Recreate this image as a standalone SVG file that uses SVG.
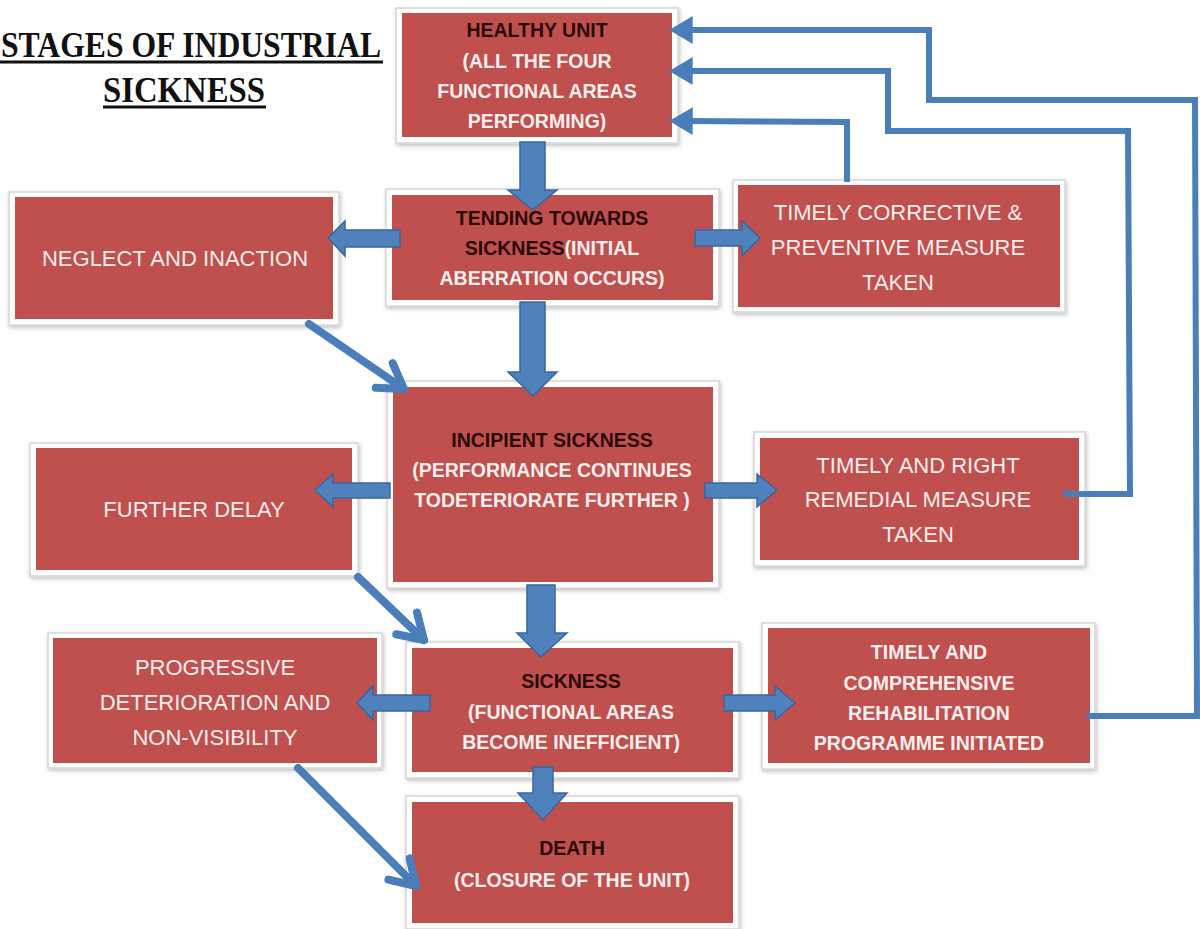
<svg xmlns="http://www.w3.org/2000/svg" width="1200" height="929" viewBox="0 0 1200 929">
<defs>
<style>
.frame{fill:#ffffff;stroke:#d6d6d6;stroke-width:1.5;filter:url(#sh)}
.box{fill:#c0504d}
.tb{font-family:"Liberation Sans",Arial,sans-serif;font-weight:bold;font-size:19.5px;text-anchor:middle}
.tr{font-family:"Liberation Sans",Arial,sans-serif;font-size:22px;text-anchor:middle;fill:#f8eeee}
.dk{fill:#2a0808}
.wt{fill:#f8eeee}
.blk{fill:#4f81bd;stroke:#3a669c;stroke-width:1.5}
.diag{fill:none;stroke:#4a7ebb;stroke-width:8;stroke-linecap:round}
.fb{fill:none;stroke:#4a7ebb;stroke-width:6;stroke-linejoin:miter}
.title{font-family:"Liberation Serif","Times New Roman",serif;font-weight:bold;fill:#111111}
</style>
<filter id="sh" x="-5%" y="-5%" width="110%" height="115%">
<feDropShadow dx="1" dy="2" stdDeviation="2" flood-color="#000000" flood-opacity="0.25"/>
</filter>
<marker id="tri" markerUnits="userSpaceOnUse" markerWidth="30" markerHeight="30" viewBox="-12 -14 26 28" refX="0" refY="0" orient="auto">
<path d="M12,0 L-10,-13 L-10,13 z" fill="#4a7ebb"/>
</marker>
<marker id="chev" markerUnits="userSpaceOnUse" markerWidth="40" markerHeight="40" viewBox="-30 -20 36 40" refX="0" refY="0" orient="auto">
<path d="M-24,-15 L0,0 L-24,15" fill="none" stroke="#4a7ebb" stroke-width="8" stroke-linecap="round" stroke-linejoin="round"/>
</marker>
</defs>
<rect width="1200" height="929" fill="#ffffff"/>

<g id="title">
<text class="title" x="1" y="57" font-size="36" textLength="380" lengthAdjust="spacingAndGlyphs">STAGES OF INDUSTRIAL</text>
<line x1="0" y1="62" x2="383" y2="62" stroke="#111" stroke-width="3"/>
<text class="title" x="103" y="102" font-size="36" textLength="162" lengthAdjust="spacingAndGlyphs">SICKNESS</text>
<line x1="103" y1="107" x2="266" y2="107" stroke="#111" stroke-width="3"/>
</g>

<g id="n-healthy">
<rect class="frame" x="396" y="8" width="282" height="135"/>
<rect class="box" x="402" y="13" width="270" height="124"/>
<text class="tb dk" x="537" y="37">HEALTHY UNIT</text>
<text class="tb wt" x="537" y="68">(ALL THE FOUR</text>
<text class="tb wt" x="537" y="98">FUNCTIONAL AREAS</text>
<text class="tb wt" x="537" y="128">PERFORMING)</text>
</g>

<g id="n-tending">
<rect class="frame" x="386" y="189" width="333" height="117"/>
<rect class="box" x="392" y="195" width="321" height="105"/>
<text class="tb dk" x="552" y="225">TENDING TOWARDS</text>
<text class="tb" x="552" y="255"><tspan class="dk">SICKNESS</tspan><tspan class="wt">(INITIAL</tspan></text>
<text class="tb wt" x="552" y="285">ABERRATION OCCURS)</text>
</g>

<g id="n-neglect">
<rect class="frame" x="9" y="192" width="330" height="133"/>
<rect class="box" x="15" y="197" width="318" height="122"/>
<text class="tr" x="175" y="266">NEGLECT AND INACTION</text>
</g>

<g id="n-corrective">
<rect class="frame" x="733" y="180" width="332" height="132"/>
<rect class="box" x="738" y="185" width="322" height="122"/>
<text class="tr" x="898" y="220">TIMELY CORRECTIVE &amp;</text>
<text class="tr" x="898" y="255">PREVENTIVE MEASURE</text>
<text class="tr" x="898" y="290">TAKEN</text>
</g>

<g id="n-incipient">
<rect class="frame" x="387" y="381" width="332" height="207"/>
<rect class="box" x="393" y="387" width="320" height="195"/>
<text class="tb dk" x="552" y="447">INCIPIENT SICKNESS</text>
<text class="tb wt" x="552" y="477">(PERFORMANCE CONTINUES</text>
<text class="tb wt" x="552" y="507">TODETERIORATE FURTHER )</text>
</g>

<g id="n-further">
<rect class="frame" x="30" y="443" width="328" height="133"/>
<rect class="box" x="36" y="448" width="316" height="122"/>
<text class="tr" x="194" y="517">FURTHER DELAY</text>
</g>

<g id="n-remedial">
<rect class="frame" x="754" y="432" width="331" height="134"/>
<rect class="box" x="760" y="438" width="319" height="122"/>
<text class="tr" x="918" y="473">TIMELY AND RIGHT</text>
<text class="tr" x="918" y="507">REMEDIAL MEASURE</text>
<text class="tr" x="918" y="542">TAKEN</text>
</g>

<g id="n-sickness">
<rect class="frame" x="406" y="642" width="333" height="136"/>
<rect class="box" x="412" y="648" width="321" height="124"/>
<text class="tb dk" x="571" y="688">SICKNESS</text>
<text class="tb wt" x="571" y="719">(FUNCTIONAL AREAS</text>
<text class="tb wt" x="571" y="749">BECOME INEFFICIENT)</text>
</g>

<g id="n-progressive">
<rect class="frame" x="48" y="633" width="334" height="135"/>
<rect class="box" x="53" y="638" width="324" height="125"/>
<text class="tr" x="215" y="675">PROGRESSIVE</text>
<text class="tr" x="215" y="710">DETERIORATION  AND</text>
<text class="tr" x="215" y="745">NON-VISIBILITY</text>
</g>

<g id="n-comprehensive">
<rect class="frame" x="762" y="623" width="333" height="146"/>
<rect class="box" x="768" y="628" width="322" height="135"/>
<text class="tb wt" x="929" y="659">TIMELY AND</text>
<text class="tb wt" x="929" y="690">COMPREHENSIVE</text>
<text class="tb wt" x="929" y="720">REHABILITATION</text>
<text class="tb wt" x="929" y="750">PROGRAMME INITIATED</text>
</g>

<g id="n-death">
<rect class="frame" x="406" y="796" width="333" height="133"/>
<rect class="box" x="412" y="802" width="321" height="121"/>
<text class="tb dk" x="572" y="855">DEATH</text>
<text class="tb wt" x="572" y="887">(CLOSURE OF THE UNIT)</text>
</g>

<g id="connectors">
<polyline class="fb" points="847,182 847,122 682,121" marker-end="url(#tri)"/>
<polyline class="fb" points="1063,494 1130,494 1128,131 888,131 888,71 682,71" marker-end="url(#tri)"/>
<polyline class="fb" points="1087,716 1197,716 1195,100 929,100 929,30 682,30" marker-end="url(#tri)"/>
<line class="diag" x1="309" y1="324" x2="404" y2="389" marker-end="url(#chev)"/>
<line class="diag" x1="358" y1="577" x2="424" y2="640" marker-end="url(#chev)"/>
<line class="diag" x1="298" y1="768" x2="416" y2="886" marker-end="url(#chev)"/>
<polygon class="blk" points="520,142 545,142 545,190 557,190 533,210 508,190 520,190"/>
<polygon class="blk" points="520,302 545,302 545,372 557,372 533,396 508,372 520,372"/>
<polygon class="blk" points="400,230 400,247 345,247 345,256 328,238 345,221 345,230"/>
<polygon class="blk" points="695,230 742,230 742,221 760,238 742,256 742,246 695,246"/>
<polygon class="blk" points="390,483 390,498 333,498 333,507 315,490 333,474 333,483"/>
<polygon class="blk" points="705,483 757,483 757,474 777,490 757,507 757,498 705,498"/>
<polygon class="blk" points="527,585 555,585 555,633 567,633 541,657 517,633 527,633"/>
<polygon class="blk" points="430,695 430,711 373,711 373,720 357,703 373,686 373,695"/>
<polygon class="blk" points="724,695 775,695 775,686 795,703 775,720 775,711 724,711"/>
<polygon class="blk" points="533,767 553,767 553,793 567,793 543,820 518,793 533,793"/>
</g>
</svg>
